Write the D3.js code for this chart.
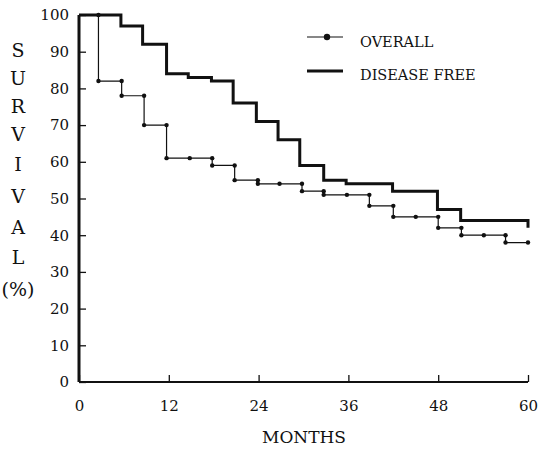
<!DOCTYPE html>
<html>
<head>
<meta charset="utf-8">
<script src="https://cdn.jsdelivr.net/npm/d3@7"></script>
<style>
  body { margin: 0; background: #fff; }
  text { font-family: "DejaVu Serif", "Liberation Serif", serif; fill: #111; }
</style>
</head>
<body>
<div id="chart"></div>
<script>
// Step 1: Data
// ==============================================================================
var yTicks = [0, 10, 20, 30, 40, 50, 60, 70, 80, 90, 100];
var xTicks = [0, 12, 24, 36, 48, 60];
var yTitleLetters = ["S", "U", "R", "V", "I", "V", "A", "L", "(%)"];

// Overall survival: month of each step and level after it
var overallMonths = [0, 2.6, 5.7, 8.7, 11.7, 14.8, 17.8, 20.8, 23.9, 26.8, 29.8, 32.7, 35.8, 38.8, 42, 45, 48, 51.1, 54.1, 57, 60];
var overallValues = [100, 82, 78, 70, 61, 61, 59, 55, 54, 54, 52, 51, 51, 48, 45, 45, 42, 40, 40, 38, 38];

// Disease free survival
var freeMonths = [0, 5.6, 8.5, 11.7, 14.6, 17.7, 20.6, 23.7, 26.6, 29.5, 32.7, 35.7, 41.9, 47.9, 51, 60, 60];
var freeValues = [100, 97, 92, 84, 83, 82, 76, 71, 66, 59, 55, 54, 52, 47, 44, 44, 42];

// Step 2: Set up chart canvas
// ==============================================================================
var svgWidth = 538;
var svgHeight = 451;

var margin = { top: 15, right: 10, bottom: 69, left: 79 };
var width = 528 - margin.left;
var height = 382 - margin.top;

var svg = d3.select("#chart")
  .append("svg")
  .attr("width", svgWidth)
  .attr("height", svgHeight);

var chartGroup = svg.append("g")
  .attr("transform", `translate(${margin.left}, ${margin.top})`);

// Step 3: Scales
// ==============================================================================
var xScale = d3.scaleLinear().domain([0, 60]).range([0, width]);
var yScale = d3.scaleLinear().domain([0, 100]).range([height, 0]);

// Step 4: Axes (ticks drawn inward, like the original)
// ==============================================================================
var leftAxis = d3.axisLeft(yScale).tickValues(yTicks).tickSize(-7).tickPadding(10).tickFormat(d3.format("d"));
var bottomAxis = d3.axisBottom(xScale).tickValues(xTicks).tickSize(-7).tickPadding(18).tickFormat(d3.format("d"));

var yAxisG = chartGroup.append("g").call(leftAxis);
var xAxisG = chartGroup.append("g")
  .attr("transform", `translate(0, ${height})`)
  .call(bottomAxis);

yAxisG.select(".domain").attr("d", `M0,0V${height}`).attr("stroke", "#111").attr("stroke-width", 3);
xAxisG.select(".domain").attr("d", `M0,0H${width}`).attr("stroke", "#111").attr("stroke-width", 2);
svg.selectAll(".tick line").attr("stroke", "#111").attr("stroke-width", 1.3);
svg.selectAll(".tick text")
  .attr("font-family", "DejaVu Serif, serif")
  .attr("font-size", 15)
  .attr("fill", "#111");

// Step 5: Survival lines
// ==============================================================================
var stepLine = d3.line()
  .x(d => xScale(d[0]))
  .y(d => yScale(d[1]))
  .curve(d3.curveStepAfter);

var freeData = freeMonths.map((m, i) => [m, freeValues[i]]);
var overallData = overallMonths.map((m, i) => [m, overallValues[i]]);

chartGroup.append("path")
  .datum(freeData)
  .attr("d", stepLine)
  .attr("fill", "none")
  .attr("stroke", "#111")
  .attr("stroke-width", 3);

chartGroup.append("path")
  .datum(overallData)
  .attr("d", stepLine)
  .attr("fill", "none")
  .attr("stroke", "#111")
  .attr("stroke-width", 1.2);

// dots on both ends of each step of the overall curve
var dots = [];
overallMonths.forEach(function(m, i) {
  if (i === 0) return;
  dots.push([m, overallValues[i - 1]]);
  if (overallValues[i] !== overallValues[i - 1]) dots.push([m, overallValues[i]]);
});

chartGroup.selectAll(".dot")
  .data(dots)
  .enter()
  .append("circle")
  .attr("class", "dot")
  .attr("cx", d => xScale(d[0]))
  .attr("cy", d => yScale(d[1]))
  .attr("r", 2.2)
  .attr("fill", "#111");

// Step 6: Axis titles
// ==============================================================================
var letterY = [50, 78, 106, 134, 164, 196, 227, 257, 289];
svg.selectAll(".ytitle")
  .data(yTitleLetters)
  .enter()
  .append("text")
  .attr("class", "ytitle")
  .attr("x", 18)
  .attr("y", (d, i) => letterY[i])
  .attr("dy", "0.36em")
  .attr("text-anchor", "middle")
  .attr("font-size", 19)
  .text(d => d);

svg.append("text")
  .attr("x", 304)
  .attr("y", 443)
  .attr("text-anchor", "middle")
  .attr("font-size", 17)
  .text("MONTHS");

// Step 7: Legend
// ==============================================================================
var legend = svg.append("g");

legend.append("line")
  .attr("x1", 307).attr("x2", 343).attr("y1", 37).attr("y2", 37)
  .attr("stroke", "#111").attr("stroke-width", 1.2);
legend.append("circle")
  .attr("cx", 327).attr("cy", 37).attr("r", 3.2).attr("fill", "#111");
legend.append("text")
  .attr("x", 360).attr("y", 42).attr("dy", "0.36em")
  .attr("font-size", 14.5)
  .text("OVERALL");

legend.append("line")
  .attr("x1", 307).attr("x2", 343).attr("y1", 71).attr("y2", 71)
  .attr("stroke", "#111").attr("stroke-width", 3);
legend.append("text")
  .attr("x", 360).attr("y", 75).attr("dy", "0.36em")
  .attr("font-size", 14.5)
  .text("DISEASE FREE");
</script>
</body>
</html>
